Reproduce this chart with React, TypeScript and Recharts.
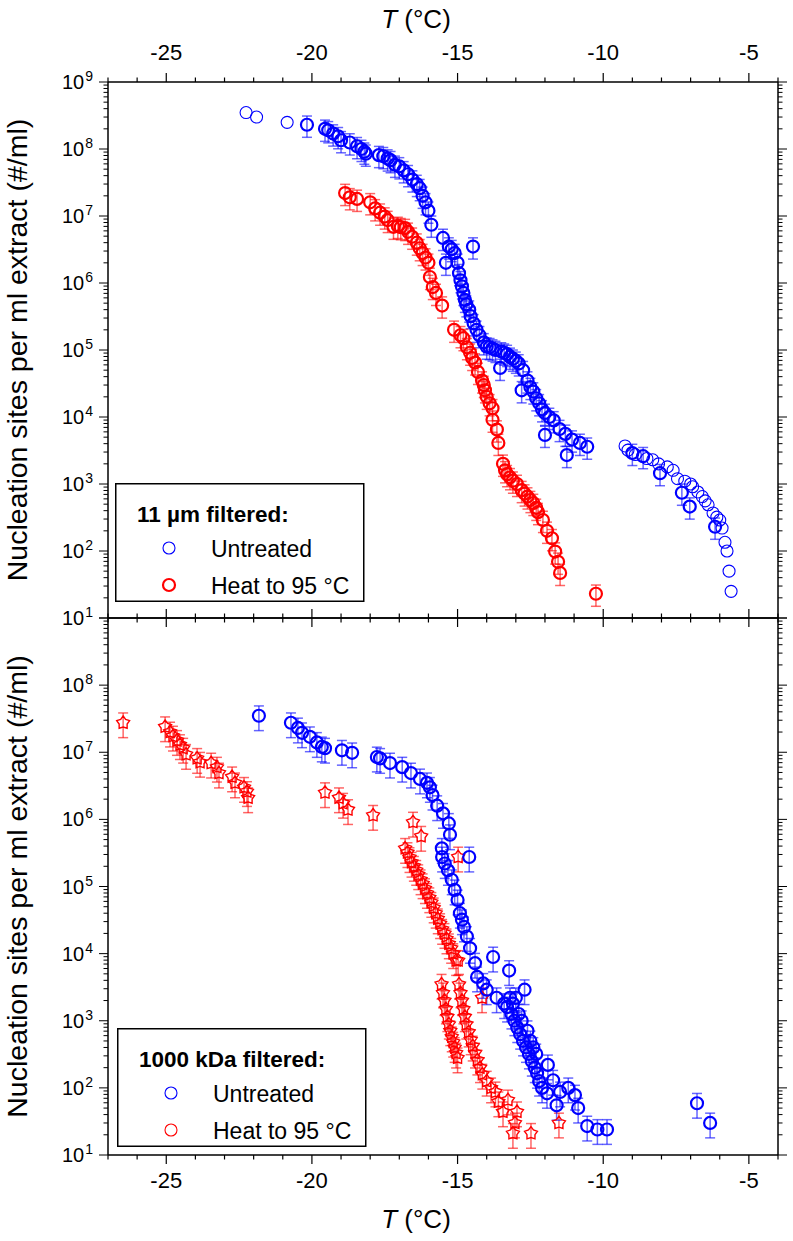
import React from 'react';
import { ScatterChart, Scatter, XAxis, YAxis, ErrorBar } from 'recharts';

const FONT = 'Arial, "Liberation Sans", sans-serif';
const BLUE = '#0000ff';
const RED = '#ff0000';
const AXIS = { stroke: '#000', strokeWidth: 1.5 };

// axis ticks
const T_TICKS = [-27, -26, -25, -24, -23, -22, -21, -20, -19, -18, -17, -16, -15, -14, -13, -12, -11, -10, -9, -8, -7, -6, -5, -4];
const T_LABELS = [-25, -20, -15, -10, -5];
const EXPONENTS = [1, 2, 3, 4, 5, 6, 7, 8, 9];
const MINOR_STEPS = [2, 3, 4, 5, 6, 7, 8, 9];
const TOP_EXP_LABELS = [1, 2, 3, 4, 5, 6, 7, 8, 9];
const BOT_EXP_LABELS = [1, 2, 3, 4, 5, 6, 7, 8];
const Y_TICKS: number[] = [];
EXPONENTS.forEach((e) => {
  Y_TICKS.push(Math.pow(10, e));
  if (e < 9) MINOR_STEPS.forEach((m) => Y_TICKS.push(m * Math.pow(10, e)));
});

// relative uncertainty used for the error bars
const ERR_TOP = 0.35;
const ERR_BOT = 0.4;

// ---- 11 µm filtered, untreated, points without error bars
const um11UntreatedThinT = [-22.26, -21.9, -20.85, -9.25, -9.15, -8.9, -8.5, -8.3, -8.1, -7.8, -7.6, -7.45, -7.2, -7.0, -6.93, -6.75, -6.6, -6.5, -6.4, -6.23, -6.1, -6.0, -5.92, -5.82, -5.75, -5.68, -5.61];
const um11UntreatedThinN = [3.5e8, 3.0e8, 2.5e8, 3.7e3, 3.2e3, 2.75e3, 2.4e3, 2.3e3, 2.0e3, 1.8e3, 1.6e3, 1.2e3, 1.1e3, 1.0e3, 910, 760, 650, 560, 490, 370, 320, 290, 220, 135, 100, 50, 25];

// ---- 11 µm filtered, untreated, points with error bars
const um11UntreatedT = [-20.17, -19.55, -19.44, -19.27, -19.1, -19.0, -18.7, -18.45, -18.3, -18.2, -18.15, -17.7, -17.55, -17.4, -17.3, -17.15, -17.0, -16.85, -16.7, -16.55, -16.4, -16.3, -16.2, -16.1, -16.0, -15.9, -15.5, -15.4, -15.3, -15.2, -15.1, -15.0, -14.95, -14.9, -14.85, -14.8, -14.75, -14.7, -14.6, -14.55, -14.47, -14.45, -14.35, -14.25, -14.1, -14.0, -13.9, -13.8, -13.7, -13.54, -13.5, -13.4, -13.3, -13.2, -13.1, -13.0, -12.9, -12.8, -12.75, -12.6, -12.5, -12.4, -12.3, -12.2, -12.1, -12.0, -12.0, -11.85, -11.7, -11.5, -11.3, -11.25, -11.07, -10.8, -10.55, -9.0, -8.63, -8.05, -7.3, -7.03, -6.16];
const um11UntreatedN = [2.3e8, 2.0e8, 1.9e8, 1.7e8, 1.55e8, 1.35e8, 1.25e8, 1.1e8, 1.0e8, 9.1e7, 8.5e7, 8.1e7, 7.8e7, 7.2e7, 6.8e7, 5.8e7, 5.5e7, 4.8e7, 4.2e7, 3.5e7, 3.0e7, 2.6e7, 2.0e7, 1.6e7, 1.2e7, 7.4e6, 4.7e6, 2.0e6, 3.5e6, 3.2e6, 2.8e6, 2.0e6, 1.4e6, 1.1e6, 8.9e5, 7.1e5, 5.6e5, 4.8e5, 4.0e5, 3.2e5, 3.5e6, 2.5e5, 2.0e5, 1.66e5, 1.3e5, 1.12e5, 1.1e5, 1.05e5, 1.0e5, 5.4e4, 9.5e4, 9.1e4, 8.7e4, 7.9e4, 7.4e4, 6.9e4, 6.3e4, 2.5e4, 5.0e4, 3.5e4, 2.8e4, 2.4e4, 1.9e4, 1.6e4, 1.3e4, 1.15e4, 5.4e3, 1.0e4, 8.9e3, 6.6e3, 5.6e3, 2.7e3, 4.6e3, 4.1e3, 3.6e3, 2.9e3, 2.6e3, 1.45e3, 740, 460, 230];

// ---- 11 µm filtered, heated to 95 °C
const um11HeatT = [-18.86, -18.7, -18.45, -18.0, -17.83, -17.66, -17.5, -17.4, -17.2, -17.05, -16.95, -16.8, -16.7, -16.56, -16.4, -16.3, -16.2, -16.1, -16.0, -15.95, -15.85, -15.74, -15.53, -15.12, -14.9, -14.8, -14.68, -14.57, -14.5, -14.4, -14.3, -14.16, -14.1, -14.06, -14.0, -13.9, -13.8, -13.8, -13.65, -13.6, -13.44, -13.37, -13.3, -13.2, -13.1, -12.96, -12.8, -12.7, -12.6, -12.5, -12.4, -12.3, -12.24, -12.07, -11.93, -11.76, -11.65, -11.55, -11.48, -10.25];
const um11HeatN = [2.2e7, 1.9e7, 1.8e7, 1.6e7, 1.3e7, 1.12e7, 9.8e6, 8.7e6, 6.9e6, 7.1e6, 6.8e6, 6.6e6, 5.8e6, 4.9e6, 4.0e6, 3.3e6, 2.8e6, 2.4e6, 2.0e6, 1.23e6, 8.7e5, 7.1e5, 4.6e5, 2.0e5, 1.66e5, 1.5e5, 1.1e5, 9.1e4, 7.6e4, 6.5e4, 4.7e4, 3.5e4, 3.0e4, 2.5e4, 2.0e4, 1.6e4, 1.35e4, 9.1e3, 6.5e3, 4.1e3, 2.0e3, 1.6e3, 1.4e3, 1.26e3, 1.12e3, 1.0e3, 810, 720, 650, 575, 520, 440, 380, 290, 200, 155, 98, 69, 47, 23];

// ---- 1000 kDa filtered, untreated
const kda1000UntreatedT = [-21.82, -20.72, -20.48, -20.34, -20.07, -19.83, -19.66, -19.55, -18.97, -18.62, -17.77, -17.66, -17.32, -16.9, -16.6, -16.29, -16.05, -15.95, -15.86, -15.7, -15.5, -15.3, -15.26, -15.54, -15.53, -15.44, -15.33, -15.2, -15.1, -15.0, -14.92, -14.85, -14.78, -14.68, -14.6, -14.57, -14.4, -13.78, -14.33, -14.12, -14.0, -13.66, -13.4, -13.23, -13.2, -13.1, -13.0, -12.7, -13.3, -13.15, -13.05, -12.95, -12.9, -12.85, -12.8, -12.75, -12.65, -12.6, -12.55, -12.5, -12.45, -12.4, -12.35, -12.3, -12.27, -12.2, -12.1, -11.93, -11.9, -11.72, -11.6, -11.48, -11.2, -10.97, -10.86, -10.55, -10.2, -9.87, -6.78, -6.33];
const kda1000UntreatedN = [3.5e7, 2.75e7, 2.3e7, 1.95e7, 1.7e7, 1.4e7, 1.2e7, 1.15e7, 1.07e7, 9.8e6, 8.5e6, 8.1e6, 6.9e6, 6.0e6, 4.9e6, 4.0e6, 3.5e6, 3.0e6, 2.3e6, 1.6e6, 1.23e6, 8.7e5, 5.9e5, 3.7e5, 2.75e5, 2.2e5, 1.74e5, 1.26e5, 8.9e4, 6.3e4, 4.0e4, 3.2e4, 2.5e4, 1.8e4, 2.75e5, 1.2e4, 7.2e3, 8.9e3, 4.5e3, 3.6e3, 2.9e3, 2.2e3, 1.8e3, 5.6e3, 2.2e3, 1.8e3, 2.2e3, 2.9e3, 1.6e3, 1.26e3, 1.0e3, 790, 1.26e3, 630, 1.0e3, 500, 400, 710, 320, 500, 250, 400, 200, 320, 165, 126, 100, 83, 220, 130, 55, 87, 100, 78, 50, 27, 24, 24, 59, 30];

// ---- 1000 kDa filtered, heated to 95 °C
const kda1000HeatT = [-26.48, -25.04, -24.87, -24.77, -24.63, -24.53, -24.42, -24.32, -23.94, -23.84, -23.46, -23.26, -23.19, -22.74, -22.64, -22.33, -22.23, -22.19, -19.55, -19.07, -18.93, -18.76, -17.9, -16.53, -16.25, -16.8, -16.72, -16.65, -16.58, -16.5, -16.42, -16.35, -16.27, -16.2, -16.12, -16.05, -15.97, -15.9, -15.82, -15.75, -15.68, -15.6, -15.53, -15.45, -15.38, -15.3, -15.22, -15.15, -15.05, -14.98, -14.98, -14.16, -15.55, -15.5, -15.45, -15.4, -15.35, -15.3, -15.25, -15.2, -15.15, -15.1, -15.05, -15.0, -14.95, -14.9, -14.85, -14.8, -14.75, -14.7, -14.62, -14.55, -14.48, -14.4, -14.32, -14.23, -14.15, -14.0, -13.85, -13.7, -13.6, -13.44, -13.27, -12.96, -13.03, -13.1, -12.48, -11.52];
const kda1000HeatN = [2.75e7, 2.4e7, 2.0e7, 1.74e7, 1.5e7, 1.3e7, 1.15e7, 9.3e6, 8.1e6, 7.1e6, 6.9e6, 6.0e6, 4.9e6, 4.3e6, 3.5e6, 3.0e6, 2.6e6, 2.1e6, 2.5e6, 2.1e6, 1.74e6, 1.4e6, 1.15e6, 9.1e5, 5.6e5, 3.7e5, 3.2e5, 2.7e5, 2.3e5, 2.0e5, 1.74e5, 1.5e5, 1.26e5, 1.1e5, 9.3e4, 7.9e4, 6.8e4, 5.8e4, 4.8e4, 4.0e4, 3.3e4, 2.8e4, 2.3e4, 2.0e4, 1.66e4, 1.4e4, 1.2e4, 1.0e4, 7.9e3, 7.9e3, 2.75e5, 2.2e3, 3.5e3, 2.6e3, 2.0e3, 1.5e3, 1.15e3, 890, 710, 575, 480, 400, 330, 280, 3.5e3, 2.6e3, 2.0e3, 1.5e3, 1.15e3, 890, 680, 520, 420, 330, 260, 200, 160, 126, 100, 87, 62, 44, 66, 44, 30, 21, 21, 30];

const rows = (t: number[], n: number[], rel: number) =>
  t.map((x, i) => ({ t: x, n: n[i], err: n[i] * rel }));

const um11UntreatedThin = rows(um11UntreatedThinT, um11UntreatedThinN, ERR_TOP);
const um11Untreated = rows(um11UntreatedT, um11UntreatedN, ERR_TOP);
const um11Heat = rows(um11HeatT, um11HeatN, ERR_TOP);
const kda1000Untreated = rows(kda1000UntreatedT, kda1000UntreatedN, ERR_BOT);
const kda1000Heat = rows(kda1000HeatT, kda1000HeatN, ERR_BOT);

// marker shapes
const ring = (color: string, sw: number) => (p: any) => (
  <circle cx={p.cx} cy={p.cy} r={6} fill="none" stroke={color} strokeWidth={sw} />
);

const starPath = (cx: number, cy: number, ro: number, ri: number) => {
  let d = '';
  for (let k = 0; k < 10; k++) {
    const r = k % 2 === 0 ? ro : ri;
    const a = -Math.PI / 2 + (k * Math.PI) / 5;
    d += (k === 0 ? 'M' : 'L') + (cx + r * Math.cos(a)).toFixed(2) + ',' + (cy + r * Math.sin(a)).toFixed(2);
  }
  return d + 'Z';
};
const star = (color: string) => (p: any) => (
  <path d={starPath(p.cx, p.cy, 6.8, 4.2)} fill="none" stroke={color} strokeWidth={1.4} />
);

// tick renderers (tickSize/tickMargin are 0 so x/y sit on the axis line)
const xTick = (dir: number, labelDy: number | null) => (p: any) => {
  const v = p.payload.value;
  const major = T_LABELS.includes(v);
  return (
    <g>
      <line x1={p.x} x2={p.x} y1={p.y} y2={p.y + dir * (major ? 9 : 4.5)} stroke="#000" strokeWidth={1.2} />
      {major && labelDy !== null && (
        <text x={p.x} y={p.y + labelDy} textAnchor="middle" fontSize={22} fontFamily={FONT} fill="#000">
          {v}
        </text>
      )}
    </g>
  );
};

const yTick = (dir: number, labels: number[]) => (p: any) => {
  const v = p.payload.value;
  const lg = Math.log10(v);
  const e = Math.round(lg);
  const major = Math.abs(lg - e) < 1e-6;
  return (
    <g>
      <line x1={p.x} x2={p.x + dir * (major ? 9 : 4.5)} y1={p.y} y2={p.y} stroke="#000" strokeWidth={1} />
      {major && labels.includes(e) && (
        <text x={p.x - 15} y={p.y + 7} textAnchor="end" fontSize={20} fontFamily={FONT} fill="#000">
          10
          <tspan dx={1} dy={-8} fontSize={14}>
            {e}
          </tspan>
        </text>
      )}
    </g>
  );
};

const yLabel = (fallbackCy: number) => (props: any) => {
  const vb = props && props.viewBox;
  const cy = vb && typeof vb.y === 'number' ? vb.y + vb.height / 2 : fallbackCy;
  const cx = 27;
  return (
    <text x={cx} y={cy} transform={`rotate(-90, ${cx}, ${cy})`} textAnchor="middle" fontSize={28.5} fontFamily={FONT} fill="#000">
      Nucleation sites per ml extract (#/ml)
    </text>
  );
};

const tLabel = (baseline: (vb: any) => number) => (props: any) => {
  const vb = props.viewBox;
  return (
    <text x={vb.x + vb.width / 2 - 27} y={baseline(vb)} textAnchor="middle" fontSize={26} fontFamily={FONT} fill="#000">
      <tspan fontStyle="italic">T</tspan> (°C)
    </text>
  );
};

const xAxisCommon = {
  type: 'number' as const,
  dataKey: 't',
  domain: [-27, -4],
  ticks: T_TICKS,
  interval: 0 as const,
  allowDataOverflow: true,
  tickSize: 0,
  tickMargin: 0,
  tickLine: false,
  axisLine: AXIS,
};
const yAxisCommon = {
  type: 'number' as const,
  dataKey: 'n',
  scale: 'log' as const,
  domain: [10, 1e9],
  ticks: Y_TICKS,
  interval: 0 as const,
  allowDataOverflow: true,
  tickSize: 0,
  tickMargin: 0,
  tickLine: false,
  axisLine: AXIS,
};

const errStyle = (color: string) => ({ stroke: color, strokeOpacity: 0.6, strokeWidth: 1.5, width: 5 });

const TopPanel = () => (
  <ScatterChart width={793} height={660} margin={{ top: 0, right: 0, bottom: 0, left: 0 }}>
    <XAxis xAxisId="top" orientation="top" height={82} {...xAxisCommon} tick={xTick(-1, -22)}
      label={tLabel(() => 28)} />
    <XAxis xAxisId="bot" orientation="bottom" height={42} {...xAxisCommon} tick={xTick(1, null)} />
    <YAxis yAxisId="left" orientation="left" width={108} {...yAxisCommon} tick={yTick(-1, TOP_EXP_LABELS)}
      label={yLabel(350)} />
    <YAxis yAxisId="right" orientation="right" width={15} {...yAxisCommon} tick={yTick(1, [])} />
    <Scatter xAxisId="top" yAxisId="left" data={um11UntreatedThin} shape={ring(BLUE, 1.1)} isAnimationActive={false} />
    <Scatter xAxisId="top" yAxisId="left" data={um11Untreated} shape={ring(BLUE, 2.2)} isAnimationActive={false}>
      <ErrorBar dataKey="err" direction="y" {...errStyle(BLUE)} />
    </Scatter>
    <Scatter xAxisId="top" yAxisId="left" data={um11Heat} shape={ring(RED, 2.2)} isAnimationActive={false}>
      <ErrorBar dataKey="err" direction="y" {...errStyle(RED)} />
    </Scatter>
  </ScatterChart>
);

const BottomPanel = () => (
  <ScatterChart width={793} height={665} margin={{ top: 0, right: 0, bottom: 0, left: 0 }}>
    <XAxis xAxisId="top" orientation="top" height={42} {...xAxisCommon} tick={xTick(-1, null)} />
    <XAxis xAxisId="bot" orientation="bottom" height={86} {...xAxisCommon} tick={xTick(1, 33)}
      label={tLabel((vb) => vb.y + 73)} />
    <YAxis yAxisId="left" orientation="left" width={108} {...yAxisCommon} tick={yTick(-1, BOT_EXP_LABELS)}
      label={yLabel(310)} />
    <YAxis yAxisId="right" orientation="right" width={15} {...yAxisCommon} tick={yTick(1, [])} />
    <Scatter xAxisId="bot" yAxisId="left" data={kda1000Heat} shape={star(RED)} isAnimationActive={false}>
      <ErrorBar dataKey="err" direction="y" {...errStyle(RED)} />
    </Scatter>
    <Scatter xAxisId="bot" yAxisId="left" data={kda1000Untreated} shape={ring(BLUE, 2.2)} isAnimationActive={false}>
      <ErrorBar dataKey="err" direction="y" {...errStyle(BLUE)} />
    </Scatter>
  </ScatterChart>
);

const LegendBox = ({ left, top, title, items }: { left: number; top: number; title: string; items: { label: string; color: string; sw: number }[] }) => (
  <svg style={{ position: 'absolute', left, top }} width={250} height={120}>
    <rect x={0.75} y={0.75} width={248} height={117.5} fill="#fff" stroke="#000" strokeWidth={1.5} />
    <text x={22} y={39} fontSize={22.5} fontWeight="bold" fontFamily={FONT} fill="#000">{title}</text>
    {items.map((it, i) => (
      <g key={it.label}>
        <circle cx={54} cy={65 + i * 37} r={6} fill="none" stroke={it.color} strokeWidth={it.sw} />
        <text x={96} y={74 + i * 36.5} fontSize={23} fontFamily={FONT} fill="#000">{it.label}</text>
      </g>
    ))}
  </svg>
);

export default function App() {
  return (
    <div style={{ position: 'absolute', left: 0, top: 0, width: 793, height: 1241, background: '#fff', overflow: 'hidden' }}>
      <div style={{ position: 'absolute', left: 0, top: 0 }}>
        <TopPanel />
      </div>
      <div style={{ position: 'absolute', left: 0, top: 576 }}>
        <BottomPanel />
      </div>
      <LegendBox left={115} top={483} title="11 µm filtered:"
        items={[{ label: 'Untreated', color: BLUE, sw: 1.1 }, { label: 'Heat to 95 °C', color: RED, sw: 2.2 }]} />
      <LegendBox left={117} top={1028} title="1000 kDa filtered:"
        items={[{ label: 'Untreated', color: BLUE, sw: 1.1 }, { label: 'Heat to 95 °C', color: RED, sw: 1.1 }]} />
    </div>
  );
}
